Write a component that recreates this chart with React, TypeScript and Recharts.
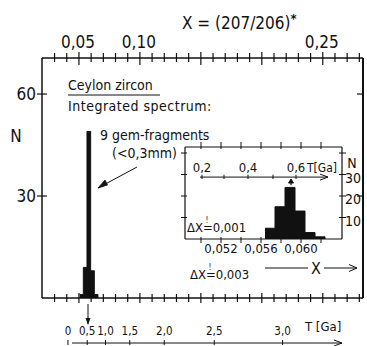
import React from 'react';
import { AreaChart, Area, XAxis, YAxis, ReferenceLine, ReferenceDot } from 'recharts';

const FONT = '"DejaVu Sans Condensed", "Liberation Sans Narrow", "DejaVu Sans", sans-serif';
const INK = '#111';

// main histogram, ΔX = 0.003 (left bin edges, last row closes the step)
const mainEdges = [0.0506, 0.0536, 0.0566, 0.0596, 0.0626, 0.0656];
const mainCounts = [1, 9, 49, 8, 1, 0];

// inset histogram, ΔX = 0.001
const insetEdges = [0.0564, 0.0574, 0.0584, 0.0594, 0.0604, 0.0614, 0.0624];
const insetCounts = [5, 15, 24, 13, 3, 1, 0];

const xTicks = [0.03, 0.04, 0.05, 0.06, 0.07, 0.08, 0.09, 0.1, 0.11, 0.12, 0.13, 0.14, 0.15,
  0.16, 0.17, 0.18, 0.19, 0.2, 0.21, 0.22, 0.23, 0.24, 0.25, 0.26, 0.27, 0.28];
const xLabelled = [0.05, 0.1, 0.25];
const nTicks = [30, 60];

// age scale T [Ga] under the main plot, placed at the X values
const tTicks = [0.041, 0.0568, 0.0718, 0.0917, 0.12, 0.161, 0.217];
const tLabels = ['0', '0,5', '1,0', '1,5', '2,0', '2,5', '3,0'];

const insetXTicks = [0.05, 0.052, 0.054, 0.056, 0.058, 0.06, 0.062];
const insetXLabelled = [0.052, 0.056, 0.06];
const insetNTicks = [10, 20, 30, 40];
const insetNLabelled = [10, 20, 30];
const insetTTicks = [0.0501, 0.0523, 0.0547, 0.0572, 0.0595];
const insetTLabels = ['0,2', '', '0,4', '', '0,6'];

const mainData = mainEdges.map((x, i) => ({ x, n: mainCounts[i] }));
const insetData = insetEdges.map((x, i) => ({ x, n: insetCounts[i] }));

const MAIN_X = [0.0197, 0.283];
const MAIN_N = [0, 70.6];
const INSET_X = [0.0484, 0.0641];
const INSET_N = [0, 42.8];
const T_LINE = 28.8;

const comma = (v: number, d: number) => v.toFixed(d).replace('.', ',');
const isMajor = (v: number) => Math.round(v * 100) % 5 === 0;

const TopTick = ({ x, y, payload }: any) => {
  const v = payload.value;
  const major = isMajor(v);
  return (
    <g>
      <line x1={x} x2={x} y1={y - (major ? 6 : 5)} y2={y + (major ? 7 : 4)} stroke={INK} strokeWidth={1.2} />
      {xLabelled.includes(v) && (
        <text x={x - 1} y={y - 10} textAnchor="middle" fontSize={17} fontFamily={FONT} fill={INK}>
          {comma(v, 2)}
        </text>
      )}
    </g>
  );
};

const BottomTick = ({ x, y, payload }: any) => {
  const major = isMajor(payload.value);
  return <line x1={x} x2={x} y1={y - (major ? 5 : 4)} y2={y + (major ? 5 : 4)} stroke={INK} strokeWidth={1.2} />;
};

const TTick = ({ x, y, payload }: any) => {
  const i = tTicks.indexOf(payload.value);
  return (
    <g>
      <text x={x} y={y + 17} textAnchor="middle" fontSize={11.5} fontFamily={FONT} fill={INK}>{tLabels[i]}</text>
      <line x1={x} x2={x} y1={y + 22} y2={y + 27} stroke={INK} strokeWidth={1} />
    </g>
  );
};

const LeftTick = ({ x, y, payload }: any) => (
  <g>
    <line x1={x - 5} x2={x + 5} y1={y} y2={y} stroke={INK} strokeWidth={1.2} />
    <text x={x - 6} y={y + 6} textAnchor="end" fontSize={17} fontFamily={FONT} fill={INK}>{payload.value}</text>
  </g>
);

const RightTick = ({ x, y }: any) => (
  <line x1={x - 6} x2={x} y1={y} y2={y} stroke={INK} strokeWidth={1.2} />
);

const InsetTopTick = ({ x, y }: any) => (
  <line x1={x} x2={x} y1={y - 5} y2={y + 2} stroke={INK} strokeWidth={1} />
);

const InsetBottomTick = ({ x, y, payload }: any) => {
  const v = payload.value;
  return (
    <g>
      <line x1={x} x2={x} y1={y - 2} y2={y + 4} stroke={INK} strokeWidth={1} />
      {insetXLabelled.includes(v) && (
        <text x={x} y={y + 14} textAnchor="middle" fontSize={13} fontFamily={FONT} fill={INK}>
          {comma(v, 3)}
        </text>
      )}
    </g>
  );
};

const InsetLeftTick = ({ x, y }: any) => (
  <line x1={x - 4} x2={x + 2} y1={y} y2={y} stroke={INK} strokeWidth={1} />
);

const InsetRightTick = ({ x, y, payload }: any) => (
  <g>
    <line x1={x - 3} x2={x + 4} y1={y} y2={y} stroke={INK} strokeWidth={1} />
    {insetNLabelled.includes(payload.value) && (
      <text x={x + 3} y={y + 8} fontSize={14} fontFamily={FONT} fill={INK}>{payload.value}</text>
    )}
  </g>
);

const ArrowRight = ({ cx, cy }: any) => (
  <path d={`M${cx - 8},${cy - 3} L${cx},${cy} L${cx - 8},${cy + 3}`} fill="none" stroke={INK} strokeWidth={1} />
);

const ArrowUp = ({ cx, cy }: any) => (
  <path d={`M${cx - 2.5},${cy + 4} L${cx},${cy} L${cx + 2.5},${cy + 4} Z`} fill={INK} stroke={INK} strokeWidth={1} />
);

// "ΔX ≐ value" with the small "!" set over the equals sign
const DeltaX = ({ x, y, value }: { x: number; y: number; value: string }) => (
  <text x={x} y={y} fontSize={13}>
    ΔX<tspan dx={2.5} dy={-9} fontSize={8}>!</tspan><tspan dx={-5.5} dy={9}>={value}</tspan>
  </text>
);

const axisLine = { stroke: INK, strokeWidth: 1.5 };

export default function App() {
  return (
    <div style={{ position: 'absolute', left: 0, top: 0, width: 367, height: 346, background: '#fff', overflow: 'hidden' }}>
      <AreaChart width={367} height={346} data={mainData} margin={{ top: 0, right: 0, bottom: 0, left: 0 }}>
        <XAxis xAxisId="top" orientation="top" type="number" dataKey="x" domain={MAIN_X} allowDataOverflow
          ticks={xTicks} interval={0} height={58} tickSize={0} tickMargin={0} tickLine={false}
          axisLine={axisLine} tick={(p: any) => <TopTick {...p} />} />
        <XAxis xAxisId="bottom" orientation="bottom" type="number" dataKey="x" domain={MAIN_X} allowDataOverflow
          ticks={xTicks} interval={0} height={20} tickSize={0} tickMargin={0} tickLine={false}
          axisLine={axisLine} tick={(p: any) => <BottomTick {...p} />} />
        <XAxis xAxisId="t" orientation="bottom" type="number" dataKey="x" domain={MAIN_X} allowDataOverflow
          ticks={tTicks} interval={0} height={28} tickSize={0} tickMargin={0} tickLine={false}
          axisLine={false} tick={(p: any) => <TTick {...p} />} />
        <YAxis yAxisId="left" type="number" domain={MAIN_N} allowDataOverflow ticks={nTicks} interval={0}
          width={42} tickSize={0} tickMargin={0} tickLine={false} axisLine={axisLine}
          tick={(p: any) => <LeftTick {...p} />} />
        <YAxis yAxisId="right" orientation="right" type="number" domain={MAIN_N} allowDataOverflow ticks={nTicks}
          interval={0} width={4} tickSize={0} tickMargin={0} tickLine={false} axisLine={{ stroke: INK, strokeWidth: 2 }}
          tick={(p: any) => <RightTick {...p} />} />
        <Area xAxisId="top" yAxisId="left" type="stepAfter" dataKey="n" stroke={INK} strokeWidth={1}
          fill={INK} fillOpacity={1} dot={false} activeDot={false} isAnimationActive={false} />
      </AreaChart>

      <div style={{ position: 'absolute', left: 165, top: 127 }}>
        <AreaChart width={202} height={132} data={insetData} margin={{ top: 0, right: 0, bottom: 0, left: 0 }}>
          <XAxis xAxisId="top" orientation="top" type="number" dataKey="x" domain={INSET_X} allowDataOverflow
            ticks={insetXTicks} interval={0} height={20} tickSize={0} tickMargin={0} tickLine={false}
            axisLine={{ stroke: INK, strokeWidth: 1.2 }} tick={(p: any) => <InsetTopTick {...p} />} />
          <XAxis xAxisId="bottom" orientation="bottom" type="number" dataKey="x" domain={INSET_X} allowDataOverflow
            ticks={insetXTicks} interval={0} height={20} tickSize={0} tickMargin={0} tickLine={false}
            axisLine={{ stroke: INK, strokeWidth: 1.2 }} tick={(p: any) => <InsetBottomTick {...p} />} />
          <YAxis yAxisId="left" type="number" domain={INSET_N} allowDataOverflow ticks={insetNTicks} interval={0}
            width={20} tickSize={0} tickMargin={0} tickLine={false} axisLine={{ stroke: INK, strokeWidth: 1.2 }}
            tick={(p: any) => <InsetLeftTick {...p} />} />
          <YAxis yAxisId="right" orientation="right" type="number" domain={INSET_N} allowDataOverflow
            ticks={insetNTicks} interval={0} width={25} tickSize={0} tickMargin={0} tickLine={false}
            axisLine={{ stroke: INK, strokeWidth: 1.2 }} tick={(p: any) => <InsetRightTick {...p} />} />
          <Area xAxisId="bottom" yAxisId="left" type="stepAfter" dataKey="n" stroke={INK} strokeWidth={1}
            fill={INK} fillOpacity={1} dot={false} activeDot={false} isAnimationActive={false} />
          <ReferenceLine xAxisId="bottom" yAxisId="left" stroke={INK} strokeWidth={1}
            segment={[{ x: 0.0499, y: T_LINE }, { x: 0.0627, y: T_LINE }]} />
          <ReferenceDot xAxisId="bottom" yAxisId="left" x={0.0627} y={T_LINE} r={3}
            shape={(p: any) => <ArrowRight {...p} />} />
          {insetTTicks.map((v, i) => (
            <ReferenceLine key={v} xAxisId="bottom" yAxisId="left" stroke={INK} strokeWidth={1}
              segment={[{ x: v, y: T_LINE - 0.9 }, { x: v, y: T_LINE + 1.1 }]}
              label={insetTLabels[i] ? { value: insetTLabels[i], position: 'top', offset: 3, fontSize: 13, fontFamily: FONT, fill: INK } : undefined} />
          ))}
          <ReferenceLine xAxisId="bottom" yAxisId="left" stroke={INK} strokeWidth={1.2}
            segment={[{ x: 0.059, y: 25 }, { x: 0.059, y: T_LINE - 1.5 }]} />
          <ReferenceDot xAxisId="bottom" yAxisId="left" x={0.059} y={T_LINE - 0.9} r={2}
            shape={(p: any) => <ArrowUp {...p} />} />
        </AreaChart>
      </div>

      <svg width={367} height={346} style={{ position: 'absolute', left: 0, top: 0, pointerEvents: 'none' }}
        fontFamily={FONT} fill={INK}>
        <text x={182} y={29} fontSize={17}>
          X = (207/206)<tspan dy={-6} fontSize={13} fontWeight="bold">*</tspan>
        </text>
        <text x={16} y={142} fontSize={17} textAnchor="middle">N</text>

        <text x={68} y={90} fontSize={14}>Ceylon zircon</text>
        <line x1={68} x2={160} y1={95} y2={95} stroke={INK} strokeWidth={1} />
        <text x={68} y={111} fontSize={14} letterSpacing={0.5}>Integrated spectrum:</text>

        <text x={100} y={140} fontSize={14}>9 gem-fragments</text>
        <text x={112} y={158} fontSize={14}>(&lt;0,3mm)</text>
        <line x1={137} y1={167} x2={98} y2={188} stroke={INK} strokeWidth={1} />
        <path d="M98,188 L105,180 L107.5,185 Z" fill={INK} stroke={INK} strokeWidth={0.8} />

        <DeltaX x={187} y={232} value="0,001" />
        <DeltaX x={190} y={279} value="0,003" />

        <text x={352} y={168} fontSize={14} textAnchor="middle">N</text>
        <text x={307} y={172} fontSize={12}>T[Ga]</text>

        <line x1={265} x2={308} y1={268} y2={268} stroke={INK} strokeWidth={1} />
        <text x={316} y={274} fontSize={16} textAnchor="middle">X</text>
        <line x1={324} x2={357} y1={268} y2={268} stroke={INK} strokeWidth={1} />
        <path d="M349,264.5 L357,268 L349,271.5" fill="none" stroke={INK} strokeWidth={1} />

        <line x1={88} x2={88} y1={304} y2={324} stroke={INK} strokeWidth={1} />
        <path d="M85.5,318 L88,325 L90.5,318 Z" fill={INK} />

        <text x={305} y={331} fontSize={13}>T [Ga]</text>
        <line x1={72} x2={342} y1={343} y2={343} stroke={INK} strokeWidth={1} />
        <path d="M334,340 L342,343 L334,346" fill="none" stroke={INK} strokeWidth={1} />
      </svg>
    </div>
  );
}
